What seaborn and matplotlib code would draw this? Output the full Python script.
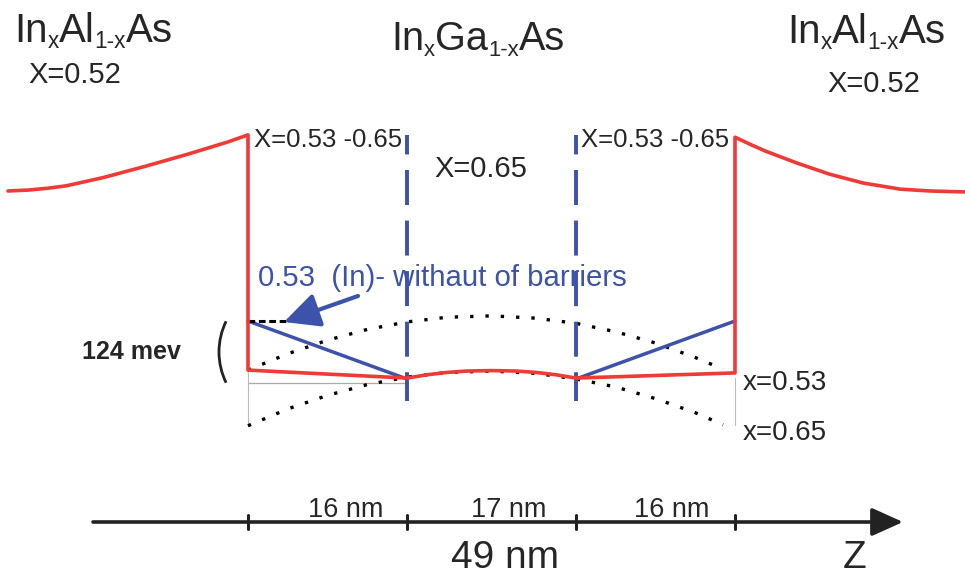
import numpy as np
import pandas as pd
import matplotlib
matplotlib.use("Agg")
import matplotlib.pyplot as plt
from matplotlib.patches import Arc
import seaborn as sns

# ---------------- data (z in nm, energy in meV) ----------------
# conduction-band profile (red): left barrier, well, right barrier
band_z = [-24.15, -22.1, -20.1, -18.3, -16.6, -14.5, -12.4, -10.3, -8.15, -6.0, -4.0, -2.0, 0.0,
          0.0, 16.0, 18.0, 20.0, 22.0, 24.5, 27.0, 29.0, 31.0, 33.0, 49.0,
          49.0, 50.5, 52.1, 55.2, 58.5, 61.9, 65.6, 68.6, 72.1]
band_E = [402, 404, 408, 413, 421, 431, 443, 455, 468, 481, 494, 507, 522,
          19, 2, 9, 14, 17, 18, 17, 14, 9, 2, 13,
          517, 502, 487, 462, 438, 419, 406, 402, 400]

# graded (linear) wells without barriers (blue)
grad_left_z = [0.0, 16.0]
grad_left_E = [124, 0]
grad_right_z = [33.0, 49.0]
grad_right_E = [0, 124]

# dotted curves (upper and lower)
dot_z = [0, 4, 8, 12, 16, 20, 24.5, 29, 33, 37, 41, 45, 47.8]
dot_upper_E = [19, 54, 83, 106, 122, 132, 135, 130, 119, 101, 77, 46, 21]
dot_lower_E = [-100, -64, -35, -12, 4, 14, 17, 12, 0, -17, -42, -72, -98]

# layer boundaries and thicknesses
boundaries_z = [0, 16, 33, 49]
layer_labels = ["16 nm", "17 nm", "16 nm"]
total_label = "49 nm"
offset_meV = 124

# ---------------- helpers: reference pixel -> data ----------------
PX_NM, Z0 = 9.939, 248.0
PX_MEV, E0 = 0.4677, 379.0
def zx(px):
    return (px - Z0) / PX_NM
def ey(py):
    return (E0 - py) / PX_MEV

RED = "#ef3a35"
BLUE = "#3c52ab"
TXT = "#262626"

sns.set_theme(style="white")
plt.rcParams["font.family"] = ["Liberation Sans", "DejaVu Sans"]

fig = plt.figure(figsize=(9.65, 5.76), dpi=100)
ax = fig.add_axes([0, 0, 1, 1])
ax.set_xlim(zx(0), zx(965))
ax.set_ylim(ey(576), ey(0))
ax.axis("off")
renderer = fig.canvas.get_renderer()

# thin grey guide lines
ax.plot([0, 16], [ey(383), ey(383)], color="#aaaaaa", lw=0.9)
ax.plot([0, 0], [ey(372), ey(426)], color="#bbbbbb", lw=0.8)
ax.plot([49, 49], [ey(378), ey(425)], color="#bbbbbb", lw=0.8)

# dotted curves
for vals in (dot_upper_E, dot_lower_E):
    sns.lineplot(x=dot_z, y=vals, ax=ax, sort=False, estimator=None, color="black",
                 lw=2.4, linestyle=(0, (1, 3.6)))

# blue dashed boundaries
for zb in boundaries_z[1:3]:
    ax.plot([zb, zb], [ey(135), ey(401)], color=BLUE, lw=2.8, linestyle=(4, (9, 4)))

# graded wells
sns.lineplot(x=grad_left_z, y=grad_left_E, ax=ax, sort=False, estimator=None, color=BLUE, lw=2.5)
sns.lineplot(x=grad_right_z, y=grad_right_E, ax=ax, sort=False, estimator=None, color=BLUE, lw=2.5)

# black dashed marker at 124 meV
ax.plot([0, 4.0], [offset_meV, offset_meV], color="black", lw=2.2, linestyle=(0, (2.2, 1.2)))

# band profile
sns.lineplot(x=band_z, y=band_E, ax=ax, sort=False, estimator=None, color=RED, lw=2.6)

# blue arrow
ax.annotate("", xy=(zx(284), ey(322)), xytext=(zx(358), ey(296)),
            arrowprops=dict(arrowstyle="-|>,head_length=0.45,head_width=0.22", lw=3.0,
                            color=BLUE, mutation_scale=48, shrinkA=0, shrinkB=0))

# bracket "(" spanning 124 meV (arc drawn in screen-circular geometry)
r = 70
def data_angle(deg):
    th = np.deg2rad(deg)
    return np.rad2deg(np.arctan2(np.sin(th) / PX_MEV, np.cos(th) / PX_NM))
ax.add_patch(Arc((zx(219 + r), ey(352)), 2 * r / PX_NM, 2 * r / PX_MEV,
                 theta1=data_angle(154), theta2=data_angle(206) % 360,
                 color="#222222", lw=2.0))

# z axis
ax.annotate("", xy=(zx(903), ey(522)), xytext=(zx(93), ey(522)),
            arrowprops=dict(arrowstyle="-|>,head_length=0.4,head_width=0.18", lw=2.6,
                            color="#222222", mutation_scale=48, shrinkA=0, shrinkB=0))
for zb in boundaries_z:
    ax.plot([zb, zb], [ey(515), ey(529)], color="#222222", lw=2.2)

# texts
def t(px, py, s, size, ha="left", va="baseline", **kw):
    return ax.text(zx(px), ey(py), s, fontsize=size, ha=ha, va=va,
                   color=kw.pop("color", TXT), **kw)

def formula(px, py, pieces, size):
    """Place a chemical formula with small subscripts, piece by piece."""
    x = px
    em = size * 100 / 72
    for s, sub in pieces:
        if sub:
            tx = t(x, py + 0.16 * em, s, size * 0.56)
        else:
            tx = t(x, py, s, size)
        x += tx.get_window_extent(renderer).width

t_inal = [("In", False), ("x", True), ("Al", False), ("1-x", True), ("As", False)]
t_ingaas = [("In", False), ("x", True), ("Ga", False), ("1-x", True), ("As", False)]
formula(14, 42, t_inal, 29)
formula(391, 50, t_ingaas, 28.5)
formula(787, 43, t_inal, 29)
t(28, 83, "X=0.52", 21)
t(827, 92, "X=0.52", 21)
t(254, 147, "X=0.53 -0.65", 18.5)
t(581, 147, "X=0.53 -0.65", 18.5)
t(434, 177, "X=0.65", 21)
t(258, 286, "0.53  (In)- withaut of barriers", 21.2, color=BLUE)
t(82, 352, f"{offset_meV} mev", 18, va="center", fontweight="bold")
t(743, 390, "x=0.53", 20)
t(743, 440, "x=0.65", 20)
for (a, b), lab, dx in zip(zip(boundaries_z[:-1], boundaries_z[1:]), layer_labels, (18, 17, 16)):
    mid_px = Z0 + (a + b) / 2 * PX_NM + dx
    t(mid_px, 517, lab, 19.5, ha="center")
t(505, 568, total_label, 28, ha="center")
t(855, 568, "Z", 28, ha="center")

fig.savefig("out.png", dpi=100, facecolor="white")
